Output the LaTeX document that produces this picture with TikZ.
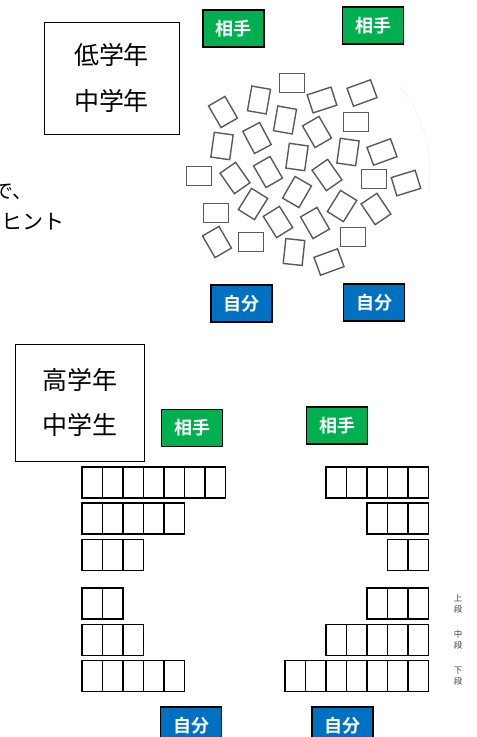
\documentclass[tikz,border=0pt]{standalone}
\usepackage{fontspec}
\usepackage{xcolor}
\usepackage{tikz}
\usetikzlibrary{positioning}
\setmainfont{Noto Sans CJK JP}[BoldFont={Noto Sans CJK JP Bold}]
\definecolor{TagGreen}{RGB}{0,176,80}
\definecolor{TagBlue}{RGB}{0,112,192}
\definecolor{CardGray}{RGB}{90,90,90}

\begin{document}
\begin{tikzpicture}[x=1pt,y=-1pt,
    gradebox/.style={rectangle,draw,line width=0.9pt,align=center,inner sep=0pt,
      font=\fontsize{25}{46}\selectfont},
    tag/.style={rectangle,draw=black,line width=1.5pt,text=white,inner sep=0pt,
      minimum width=61pt,minimum height=37pt,font=\fontsize{18}{20}\selectfont\bfseries},
    aite/.style={tag,fill=TagGreen},
    jibun/.style={tag,fill=TagBlue},
    card/.style={rectangle,draw=CardGray,line width=1.4pt,inner sep=0pt,
      minimum width=25pt,minimum height=19pt},
    cell/.style={rectangle,draw,line width=1.9pt,inner sep=0pt,outer sep=0pt,
      minimum width=20.5pt,minimum height=31pt},
    rowlabel/.style={align=center,inner sep=0pt,text=black!75,
      font=\fontsize{8.5}{10.5}\selectfont}]
    \useasboundingbox (0,0) rectangle (477,737);

    % Upper half - scattered cards
    \node[gradebox,minimum width=135pt,minimum height=112pt] (low) at (111.5,78) {低学年\\中学年};
    \node[anchor=east,inner sep=0pt,font=\fontsize{20}{22}\selectfont] (hintA) at (33,192) {で、};
    \node[anchor=east,inner sep=0pt,font=\fontsize{21}{23}\selectfont] (hintB) at (65,222) {ヒント};

    \node[aite] (aite1) at (233.5,28.5) {相手};
    \node[aite] (aite2) at (373,25.5) {相手};
    \node[jibun] (jibun1) at (241.5,303.5) {自分};
    \node[jibun] (jibun2) at (374,302.5) {自分};

    \draw[gray!12,line width=0.6pt] (300,170) ++(-40:130) arc[start angle=-40,end angle=10,radius=130];

    \foreach \x/\y/\a [count=\i] in {292/83/0, 259/100/80, 223/112/120, 322/100/18,
        362/93/20, 285/120/80, 356/122/0, 222/146/82, 257/138/118, 317/132/120,
        348/152/82, 382/152/20, 297/157/82, 199/176/0, 235/178/125, 268/172/120,
        327/175/125, 374/179/0, 406/183/17, 297/192/60, 253/204/58, 216/213/0,
        342/206/58, 376/209/124, 278/222/122, 315/223/120, 217/242/120, 251/242/0,
        353/237/0, 294/252/84, 329/262/20}
      \node[card,rotate=\a] (card\i) at (\x,\y) {};

    % Lower half - rows of cards
    \node[gradebox,minimum width=129pt,minimum height=117pt,font=\fontsize{25}{45}\selectfont] (high) at (79.5,402.5) {高学年\\中学生};

    \node[aite] (aite3) at (192,428) {相手};
    \node[aite] (aite4) at (337,425.5) {相手};
    \node[jibun] (jibun3) at (191,725.5) {自分};
    \node[jibun] (jibun4) at (342.5,725.5) {自分};

    \foreach \n/\y [count=\r] in {7/482.5, 5/518.5, 3/555, 2/603.5, 3/640, 5/676}
      \foreach \k in {1,...,\n}
        \node[cell] (L\r-\k) at ({82+20.5*(\k-0.5)},\y) {};
    \foreach \n/\y [count=\r] in {5/482.5, 3/518.5, 2/555, 3/603.5, 5/640, 7/676}
      \foreach \k in {1,...,\n}
        \node[cell] (R\r-\k) at ({428.5-20.5*(\k-0.5)},\y) {};

    \node[rowlabel] (upper) at (458,604) {上\\段};
    \node[rowlabel] (middle) at (458,640) {中\\段};
    \node[rowlabel] (lower) at (458,676) {下\\段};
\end{tikzpicture}
\end{document}
